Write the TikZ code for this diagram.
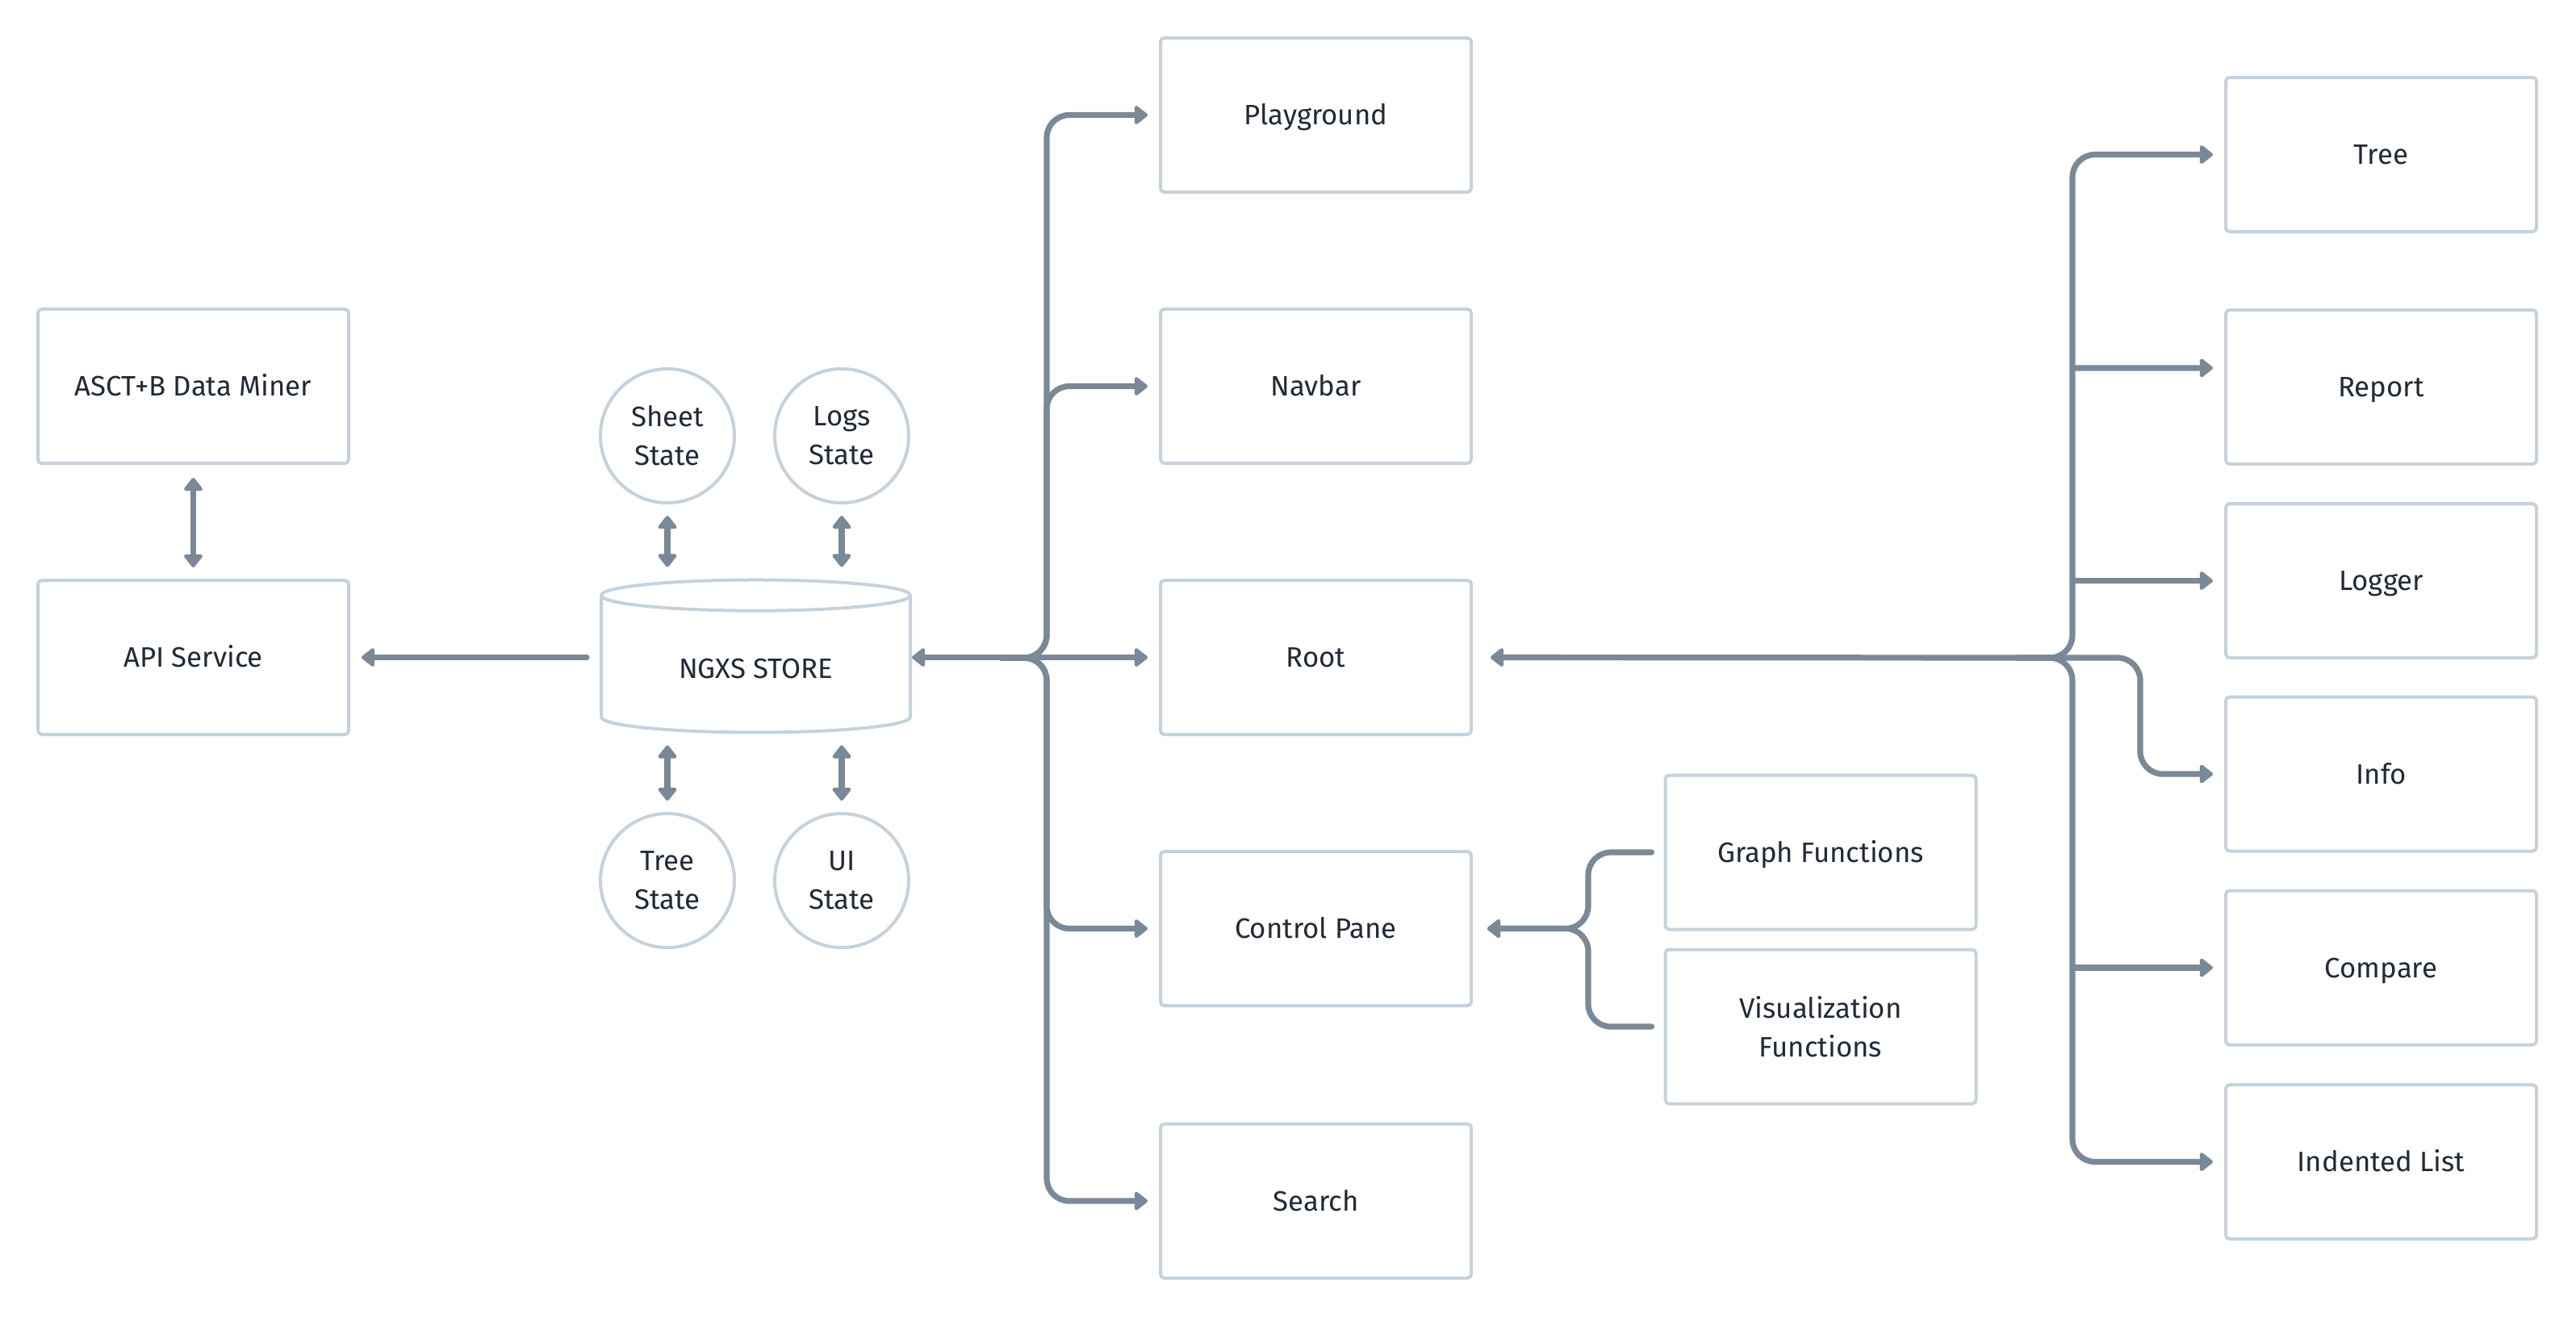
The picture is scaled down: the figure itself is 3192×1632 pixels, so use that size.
\documentclass[tikz,border=0pt]{standalone}
\usepackage{fontspec}
\setmainfont{Fira Sans}
\usetikzlibrary{positioning, shapes.geometric, arrows.meta}

\begin{document}
\begin{tikzpicture}[x=0.25pt,y=-0.25pt,
  >={Triangle[length=4.4pt,width=6.6pt,round]},
  label/.style={text=textColor,font=\fontsize{8.7}{12}\selectfont,align=center},
  box/.style={label,draw=boxColor,line width=1pt,rounded corners=1.2pt,fill=white,minimum width=96.25pt,minimum height=47.75pt,inner sep=0pt,text height=6pt,text depth=0pt},
  twoline/.style={text height=,text depth=},
  state/.style={label,circle,draw=boxColor,line width=1pt,minimum size=41.5pt,inner sep=0pt},
  store/.style={label,cylinder,shape border rotate=90,shape aspect=0.2,draw=boxColor,line width=1pt,minimum width=95.75pt,minimum height=47.25pt,inner sep=0pt,text height=8.5pt,text depth=0pt},
  conn/.style={draw=lineColor,line width=1.8pt,line join=round,line cap=round,rounded corners=7pt,shorten >=3.5pt}]
\definecolor{fillColor}{RGB}{255,255,255}
\definecolor{boxColor}{RGB}{197,210,220}
\definecolor{lineColor}{RGB}{122,137,152}
\definecolor{textColor}{RGB}{33,42,55}
\path[use as bounding box,fill=fillColor] (0,0) rectangle (3192,1632);

\node[box] (miner) at (239.5,478.5) {ASCT+B Data Miner};
\node[box] (api) at (239.5,814.5) {API Service};

\node[store] (store) at (936.5,823.5) {NGXS STORE};
\node[state] (sheet) at (827,540) {Sheet\\State};
\node[state] (logs) at (1043,540) {Logs\\State};
\node[state] (treestate) at (827,1091) {Tree\\State};
\node[state] (uistate) at (1043,1091) {UI\\State};

\node[box] (playground) at (1630.5,142.5) {Playground};
\node[box] (navbar) at (1630.5,478.5) {Navbar};
\node[box] (root) at (1630.5,814.5) {Root};
\node[box] (control) at (1630.5,1150.5) {Control Pane};
\node[box] (search) at (1630.5,1488) {Search};

\node[box] (graph) at (2256,1056) {Graph Functions};
\node[box,twoline] (visual) at (2256,1272) {Visualization\\Functions};

\node[box] (tree) at (2950.5,191.5) {Tree};
\node[box] (report) at (2950.5,479.5) {Report};
\node[box] (logger) at (2950.5,719.5) {Logger};
\node[box] (info) at (2950.5,959) {Info};
\node[box] (compare) at (2950.5,1199) {Compare};
\node[box] (indented) at (2950.5,1439.5) {Indented List};

\coordinate (ljoin) at (1240,815);
\coordinate (lbus) at (1297,815);
\coordinate (rjoin) at (2500,815);
\coordinate (rbus) at (2568,815);
\coordinate (infobend) at (2652,959);
\coordinate (cpjoin) at (1968,1150.5);

\draw[conn,<->,shorten <=4pt] (miner) -- (api);
\draw[conn,->,shorten <=4pt] (store.west |- api.east) -- (api.east);
\draw[conn,<->,shorten <=3.5pt] (sheet.south) -- (sheet.south |- store.north);
\draw[conn,<->,shorten <=3.5pt] (logs.south) -- (logs.south |- store.north);
\draw[conn,<->,shorten <=3.5pt] (treestate.north) -- (treestate.north |- store.south);
\draw[conn,<->,shorten <=3.5pt] (uistate.north) -- (uistate.north |- store.south);

\draw[conn,<->,shorten <=0pt] (store.east |- root.west) -- (root.west);
\draw[conn,->] (ljoin) -| (lbus |- playground.west) -- (playground.west);
\draw[conn,->] (ljoin) -| (lbus |- navbar.west) -- (navbar.west);
\draw[conn,->] (ljoin) -| (lbus |- control.west) -- (control.west);
\draw[conn,->] (ljoin) -| (lbus |- search.west) -- (search.west);

\draw[conn,->,shorten >=5.5pt] (rbus) -- (root.east);
\draw[conn,->] (rjoin) -| (rbus |- tree.west) -- (tree.west);
\draw[conn,->] (rbus |- report.west) ++(0,-23.5) -- ([yshift=5.9pt]report.west);
\draw[conn,->] (rbus |- logger.west) -- (logger.west);
\draw[conn,->] (rbus) -| (infobend) -- (info.west);
\draw[conn,->] (rbus |- compare.west) -- (compare.west);
\draw[conn,->] (rjoin) -| (rbus |- indented.west) -- (indented.west);

\draw[conn,->,shorten >=4.5pt] ([xshift=-3.75pt]graph.west) -| (cpjoin) -- (control.east);
\draw[conn,->,shorten >=4.5pt] ([xshift=-3.75pt]visual.west) -| (cpjoin) -- (control.east);
\end{tikzpicture}
\end{document}
